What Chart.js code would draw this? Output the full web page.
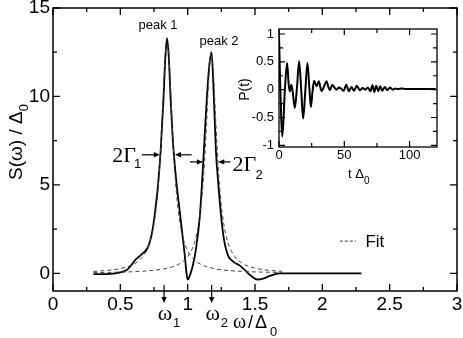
<!DOCTYPE html>
<html><head><meta charset="utf-8">
<script src="https://cdn.jsdelivr.net/npm/chart.js@4.4.1/dist/chart.umd.min.js"></script>
<style>
html,body{margin:0;padding:0;background:#fff;}
#wrap{position:relative;width:463px;height:338px;overflow:hidden;}
#main{position:absolute;left:0;top:0;}
#inset{position:absolute;left:230px;top:20px;}
</style></head><body>
<div id="wrap">
<canvas id="main" width="463" height="338"></canvas>
<canvas id="inset" width="215" height="170"></canvas>
</div>
<script>
// ---- main spectrum S(omega) ----
const omega = [0.30,0.40,0.50,0.55,0.58,0.61,0.64,0.67,0.70,0.72,0.74,0.76,0.78,0.80,0.82,0.835,0.847,0.86,0.875,0.89,0.90,0.917,0.935,0.955,0.97,0.98,0.99,1.00,1.01,1.025,1.04,1.06,1.09,1.115,1.14,1.16,1.177,1.19,1.21,1.228,1.25,1.27,1.30,1.34,1.385,1.43,1.48,1.52,1.56,1.61,1.68,1.80,2.00,2.29];
const spectrum = [-0.05,-0.05,0.05,0.2,0.45,0.75,0.95,1.15,1.4,1.8,2.5,3.6,5.0,7.0,9.8,12.3,13.3,12.2,9.6,7.5,6.5,5.1,3.9,2.6,1.6,0.9,0.1,-0.35,-0.25,0.07,0.5,1.3,3.2,6.2,9.6,11.7,12.5,10.8,6.9,5.0,3.1,1.9,1.0,0.65,0.45,0.15,-0.2,-0.35,-0.3,-0.15,0.0,0.0,0.0,0.0];
// ---- fit, peak 1 ----
const fit1Omega = [0.3,0.4,0.5,0.6,0.65,0.7,0.75,0.78,0.8,0.82,0.835,0.847,0.86,0.875,0.89,0.91,0.93,0.96,1.0,1.05,1.1,1.2,1.3,1.4,1.5,1.6,1.7];
const fit1 = [0.11,0.16,0.27,0.52,0.81,1.38,2.79,4.75,7.06,10.3,12.57,13.3,12.45,10.12,7.64,5.14,3.54,2.18,1.28,0.76,0.50,0.26,0.16,0.11,0.08,0.06,0.05];
// ---- fit, peak 2 ----
const fit2Omega = [0.3,0.4,0.5,0.6,0.7,0.8,0.9,0.95,1.0,1.05,1.08,1.1,1.12,1.14,1.16,1.175,1.19,1.21,1.23,1.25,1.27,1.3,1.35,1.4,1.45,1.5,1.6,1.7];
const fit2 = [0.04,0.05,0.07,0.09,0.14,0.22,0.40,0.59,0.94,1.72,2.71,3.85,5.66,8.39,11.47,12.5,11.47,8.39,5.66,3.85,2.71,1.72,0.94,0.59,0.40,0.29,0.17,0.11];
// ---- inset P(t) ----
const timeT = [0,0.8,2.6,4.5,6.2,7.4,8.2,9.5,10.8,12.1,13.8,15.4,17,18.5,20.2,21.8,23.2,24.4,25.6,26.9,28.8,30.5,31.6,32.6,34.5,36.4,37.8,39,40.8,42.4,44,46,47.5,49.5,51.5,53.5,55.5,57.5,59.5,62,64,66,68,70,71.5,73,74.5,76,77.5,79,81,83,85,87,89,91,94,97,100,110,120];
const pT = [1.0,0.2,-0.84,0.0,0.48,0.1,-0.03,0.09,-0.1,-0.33,0.05,0.51,0.0,-0.52,0.0,0.48,0.05,-0.31,-0.05,0.16,0.06,0.15,0.05,-0.03,0.06,0.15,0.05,-0.01,0.09,0.04,0.0,0.04,0.02,-0.02,0.09,-0.03,0.05,-0.02,0.07,-0.01,0.03,0.0,0.04,-0.03,0.08,-0.04,0.07,-0.03,0.06,-0.02,0.05,-0.01,0.04,0.0,0.02,0.01,0.02,0.01,0.01,0.01,0.01];
// ---- tick labels ----
const mainXTicks = [0,0.5,1,1.5,2,2.5,3];
const mainYTicks = [0,5,10,15];
const insetXTicks = [0,50,100];
const insetYTicks = [-1,-0.5,0,0.5,1];
// ---- annotations (data coordinates) ----
const peakOmega = [0.825, 1.178];
const peakLabels = ['peak 1','peak 2'];
const peakLabelX = [0.78, 1.233];
const peakLabelY = [14.0, 13.1];
const arrowTail = [0.66, 1.03, 1.017, 1.318];
const arrowTip = [0.793, 0.906, 1.113, 1.227];
const arrowLevel = [6.7, 6.7, 6.3, 6.3];

const pts = (xs, ys) => xs.map((x, i) => ({x, y: ys[i]}));
const SANS = '"Liberation Sans", Arial, sans-serif';
const SERIF = '"Liberation Serif", "Times New Roman", serif';

const frameTicks = {
  id: 'frameTicks',
  afterDraw(chart, args, o) {
    const {ctx, chartArea: a} = chart;
    const sx = chart.scales.x, sy = chart.scales.y;
    ctx.save();
    ctx.strokeStyle = '#000';
    ctx.lineWidth = o.tickWidth;
    ctx.beginPath();
    const isMaj = (v, s) => Math.abs(v / s - Math.round(v / s)) < 1e-6;
    for (let k = Math.ceil(sx.min / o.xMinor - 1e-9); k * o.xMinor <= sx.max + 1e-9; k++) {
      const v = k * o.xMinor, p = sx.getPixelForValue(v);
      const L = isMaj(v, o.xMajor) ? o.major : o.minor;
      ctx.moveTo(p, a.bottom); ctx.lineTo(p, a.bottom - L);
      ctx.moveTo(p, a.top); ctx.lineTo(p, a.top + L);
    }
    for (let k = Math.ceil(sy.min / o.yMinor - 1e-9); k * o.yMinor <= sy.max + 1e-9; k++) {
      const v = k * o.yMinor, p = sy.getPixelForValue(v);
      const L = isMaj(v, o.yMajor) ? o.major : o.minor;
      ctx.moveTo(a.left, p); ctx.lineTo(a.left + L, p);
      ctx.moveTo(a.right, p); ctx.lineTo(a.right - L, p);
    }
    ctx.stroke();
    ctx.lineWidth = o.frameWidth;
    ctx.strokeRect(a.left, a.top, a.right - a.left, a.bottom - a.top);
    ctx.restore();
  }
};

function txt(ctx, s, x, y, font, align, base) {
  ctx.font = font; ctx.textAlign = align || 'left'; ctx.textBaseline = base || 'alphabetic';
  ctx.fillText(s, x, y);
}
function arrow(ctx, x1, y1, x2, y2, head) {
  const ang = Math.atan2(y2 - y1, x2 - x1);
  ctx.beginPath(); ctx.moveTo(x1, y1);
  ctx.lineTo(x2 - Math.cos(ang) * head * 0.8, y2 - Math.sin(ang) * head * 0.8); ctx.stroke();
  ctx.beginPath(); ctx.moveTo(x2, y2);
  ctx.lineTo(x2 - head * Math.cos(ang) + head * 0.45 * Math.sin(ang), y2 - head * Math.sin(ang) - head * 0.45 * Math.cos(ang));
  ctx.lineTo(x2 - head * Math.cos(ang) - head * 0.45 * Math.sin(ang), y2 - head * Math.sin(ang) + head * 0.45 * Math.cos(ang));
  ctx.closePath(); ctx.fill();
}

const mainText = {
  id: 'mainText',
  afterDraw(chart) {
    const {ctx, chartArea: a} = chart;
    const sx = chart.scales.x, sy = chart.scales.y;
    ctx.save();
    ctx.fillStyle = '#000'; ctx.strokeStyle = '#000'; ctx.lineWidth = 1.2;
    // peak labels
    peakLabels.forEach((s, i) => txt(ctx, s, sx.getPixelForValue(peakLabelX[i]), sy.getPixelForValue(peakLabelY[i]), '13px ' + SANS, 'center', 'middle'));
    // 2Gamma arrows
    arrowTail.forEach((t, i) => {
      const yy = sy.getPixelForValue(arrowLevel[i]);
      arrow(ctx, sx.getPixelForValue(t), yy, sx.getPixelForValue(arrowTip[i]), yy, 6);
    });
    const t1 = sx.getPixelForValue(arrowTail[0]), y1 = sy.getPixelForValue(arrowLevel[0]);
    txt(ctx, '2\u0393', t1 - 6, y1 + 7, '22px ' + SERIF, 'right');
    txt(ctx, '1', t1 - 8, y1 + 13, '13px ' + SANS, 'left');
    const t2 = sx.getPixelForValue(arrowTail[3]), y2 = sy.getPixelForValue(arrowLevel[3]);
    txt(ctx, '2\u0393', t2 + 2, y2 + 9, '22px ' + SERIF, 'left');
    txt(ctx, '2', t2 + 25, y2 + 17, '13px ' + SANS, 'left');
    // omega markers
    peakOmega.forEach((w, i) => {
      const px = sx.getPixelForValue(w);
      arrow(ctx, px, a.bottom - 6, px, a.bottom + 12, 6);
      txt(ctx, '\u03c9', px + 1, a.bottom + 29, '22px ' + SERIF, 'center');
      txt(ctx, String(i + 1), px + 9, a.bottom + 36, '13px ' + SANS, 'left');
    });
    // x title
    txt(ctx, '\u03c9', 233, 328, '20px ' + SERIF, 'left');
    txt(ctx, '/', 248, 328, '18px ' + SANS, 'left');
    txt(ctx, '\u0394', 255, 328, '18px ' + SANS, 'left');
    txt(ctx, '0', 270, 336, '13px ' + SANS, 'left');
    // y title
    ctx.save();
    ctx.translate(22, 142); ctx.rotate(-Math.PI / 2);
    ctx.font = '19px ' + SANS;
    const main = 'S(\u03c9) / \u0394';
    const w1 = ctx.measureText(main).width;
    ctx.font = '13px ' + SANS;
    const w2 = ctx.measureText('0').width;
    const x0 = -(w1 + w2) / 2;
    txt(ctx, main, x0, 0, '19px ' + SANS, 'left');
    txt(ctx, '0', x0 + w1, 6, '13px ' + SANS, 'left');
    ctx.restore();
    // legend
    const ly = sy.getPixelForValue(1.82);
    ctx.save(); ctx.lineWidth = 1; ctx.strokeStyle = '#333'; ctx.setLineDash([3, 2]);
    ctx.beginPath(); ctx.moveTo(sx.getPixelForValue(2.13), ly); ctx.lineTo(sx.getPixelForValue(2.25), ly); ctx.stroke();
    ctx.restore();
    txt(ctx, 'Fit', sx.getPixelForValue(2.32), ly + 1, '17px ' + SANS, 'left', 'middle');
    ctx.restore();
  }
};

const insetText = {
  id: 'insetText',
  afterDraw(chart) {
    const ctx = chart.ctx;
    ctx.save(); ctx.fillStyle = '#000';
    ctx.save(); ctx.translate(19, 69.5); ctx.rotate(-Math.PI / 2);
    txt(ctx, 'P(t)', 0, 0, '14px ' + SANS, 'center');
    ctx.restore();
    txt(ctx, 't \u0394', 118, 158, '13px ' + SANS, 'left');
    txt(ctx, '0', 134, 164, '10px ' + SANS, 'left');
    ctx.restore();
  }
};

new Chart(document.getElementById('main'), {
  type: 'line',
  data: {
    datasets: [
      {data: pts(fit1Omega, fit1), borderColor: '#444', borderWidth: 1, borderDash: [4, 3], cubicInterpolationMode: 'monotone', pointRadius: 0, fill: false},
      {data: pts(fit2Omega, fit2), borderColor: '#444', borderWidth: 1, borderDash: [4, 3], cubicInterpolationMode: 'monotone', pointRadius: 0, fill: false},
      {data: pts(omega, spectrum), borderColor: '#000', borderWidth: 1.8, cubicInterpolationMode: 'monotone', pointRadius: 0, fill: false}
    ]
  },
  options: {
    responsive: false, animation: false, devicePixelRatio: 1,
    layout: {padding: {top: 8, right: 6, left: 0, bottom: 0}},
    plugins: {legend: {display: false}, tooltip: {enabled: false},
      frameTicks: {xMajor: 0.5, xMinor: 0.25, yMajor: 5, yMinor: 2.5, major: 7, minor: 4, frameWidth: 1.5, tickWidth: 1.3}},
    scales: {
      x: {type: 'linear', min: 0, max: 3,
        grid: {display: false, drawTicks: false}, border: {display: false},
        afterBuildTicks: s => { s.ticks = mainXTicks.map(v => ({value: v})); },
        afterFit: s => { s.height = 47; s.paddingLeft = 0; s.paddingRight = 0; },
        ticks: {autoSkip: false, maxRotation: 0, padding: 2, color: '#000', font: {family: SANS, size: 19}, callback: v => String(v)}},
      y: {type: 'linear', min: -1, max: 15,
        grid: {display: false, drawTicks: false}, border: {display: false},
        afterBuildTicks: s => { s.ticks = mainYTicks.map(v => ({value: v})); },
        afterFit: s => { s.width = 53; s.paddingTop = 0; s.paddingBottom = 0; },
        ticks: {autoSkip: false, padding: 3, color: '#000', font: {family: SANS, size: 19}, callback: v => String(v)}}
    }
  },
  plugins: [frameTicks, mainText]
});

new Chart(document.getElementById('inset'), {
  type: 'line',
  data: {datasets: [{data: pts(timeT, pT), borderColor: '#000', borderWidth: 2, cubicInterpolationMode: 'monotone', pointRadius: 0, fill: false}]},
  options: {
    responsive: false, animation: false, devicePixelRatio: 1,
    layout: {padding: {top: 9, right: 8, left: 0, bottom: 0}},
    plugins: {legend: {display: false}, tooltip: {enabled: false},
      frameTicks: {xMajor: 50, xMinor: 25, yMajor: 0.5, yMinor: 0.25, major: 6, minor: 4, frameWidth: 1.3, tickWidth: 1.2}},
    scales: {
      x: {type: 'linear', min: 0, max: 121,
        grid: {display: false, drawTicks: false}, border: {display: false},
        afterBuildTicks: s => { s.ticks = insetXTicks.map(v => ({value: v})); },
        afterFit: s => { s.height = 43; s.paddingLeft = 0; s.paddingRight = 0; },
        ticks: {autoSkip: false, maxRotation: 0, padding: 1, color: '#000', font: {family: SANS, size: 13}, callback: v => String(v)}},
      y: {type: 'linear', min: -1.03, max: 1.09,
        grid: {display: false, drawTicks: false}, border: {display: false},
        afterBuildTicks: s => { s.ticks = insetYTicks.map(v => ({value: v})); },
        afterFit: s => { s.width = 49; s.paddingTop = 0; s.paddingBottom = 0; },
        ticks: {autoSkip: false, padding: 5, color: '#000', font: {family: SANS, size: 13}, callback: v => String(v)}}
    }
  },
  plugins: [frameTicks, insetText]
});
</script>
</body></html>
